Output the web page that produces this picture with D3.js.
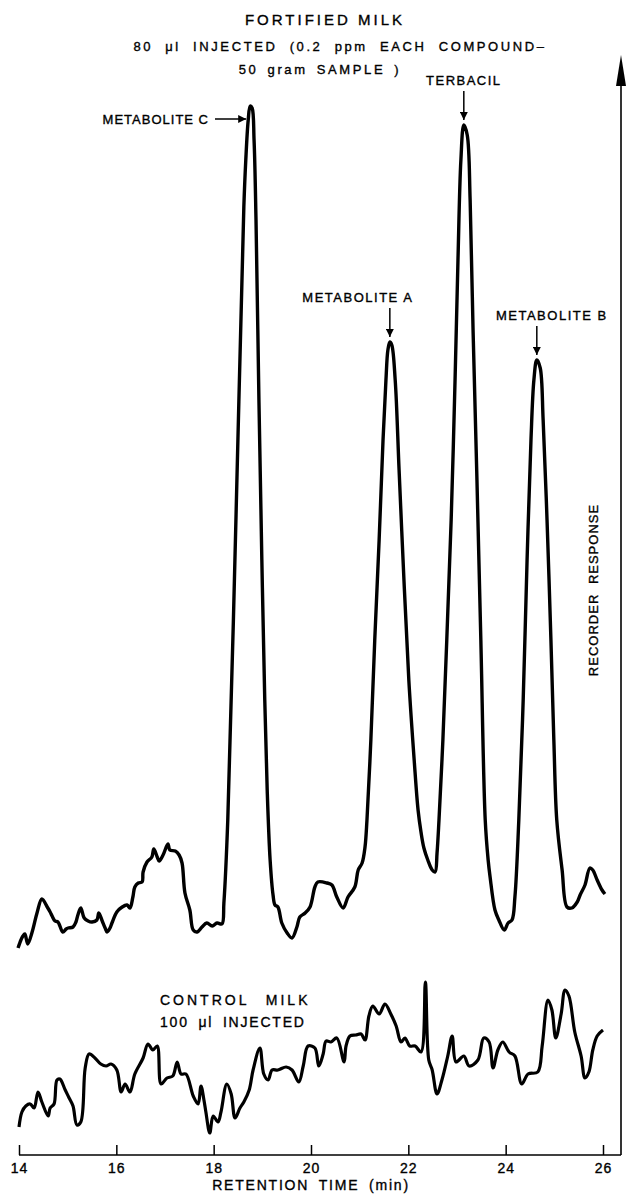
<!DOCTYPE html>
<html>
<head>
<meta charset="utf-8">
<script src="https://cdn.jsdelivr.net/npm/d3@7"></script>
<style>
  body { margin: 0; background: #fff; }
  svg text { font-family: "Liberation Sans", Arial, sans-serif; fill: #000; stroke: #000; stroke-width: 0.35px; }
</style>
</head>
<body>
<svg id="chart" width="631" height="1195"></svg>
<script>
// retention time (min) and recorder response (chart units)
const fortifiedTime = [13.98,14.04,14.08,14.12,14.18,14.27,14.37,14.47,14.58,14.64,14.68,14.74,14.80,14.84,14.90,14.97,15.01,15.11,15.17,15.21,15.27,15.34,15.42,15.50,15.60,15.64,15.71,15.77,15.81,15.87,15.91,16.01,16.12,16.22,16.28,16.34,16.38,16.45,16.53,16.55,16.63,16.73,16.77,16.84,16.88,16.96,17.06,17.10,17.21,17.29,17.35,17.41,17.51,17.58,17.66,17.76,17.86,17.97,18.07,18.17,18.21,18.29,18.46,18.62,18.66,18.71,18.75,18.79,18.83,18.87,18.93,18.99,19.05,19.10,19.16,19.22,19.26,19.32,19.40,19.51,19.61,19.71,19.77,19.88,19.98,20.08,20.14,20.33,20.43,20.53,20.66,20.76,20.90,20.97,21.05,21.11,21.15,21.23,21.31,21.40,21.48,21.54,21.58,21.62,21.66,21.73,21.81,21.91,22.01,22.12,22.20,22.26,22.32,22.40,22.49,22.55,22.59,22.63,22.71,22.79,22.88,22.96,23.02,23.08,23.14,23.21,23.27,23.33,23.41,23.49,23.58,23.64,23.68,23.78,23.86,23.97,24.05,24.13,24.19,24.27,24.36,24.44,24.52,24.58,24.64,24.71,24.77,24.85,24.93,24.99,25.05,25.16,25.26,25.36,25.47,25.53,25.63,25.73,25.79,25.88,25.98,26.04];
const fortifiedResponse = [20.7,21.5,21.9,22.1,21.1,22.3,24.2,25.6,24.8,24.3,23.9,23.4,23.3,22.9,22.3,22.6,22.7,22.8,23.3,24.0,24.7,23.7,23.4,23.3,23.5,24.2,23.4,22.7,22.3,22.7,23.2,24.3,24.8,25.0,24.7,25.8,26.8,27.2,27.3,28.3,29.3,29.8,30.6,29.8,29.4,30.0,31.1,30.5,30.4,30.0,29.2,26.2,24.5,22.5,22.3,22.8,23.2,22.9,23.2,23.1,25.2,33.5,64.0,94.8,99.5,103.5,104.9,104.7,101.5,93.5,75.5,59.5,45.5,36.5,29.5,26.0,25.0,24.8,23.2,22.2,21.7,22.8,23.8,24.2,24.8,26.8,27.3,27.2,27.0,25.8,24.7,25.8,26.8,28.5,29.2,30.8,33.5,41.5,51.5,61.5,71.5,77.5,80.5,81.3,81.0,77.5,68.5,57.5,47.5,39.5,34.5,32.3,30.7,29.5,28.5,28.3,30.2,33.5,41.5,51.5,63.5,77.5,89.5,99.5,103.0,102.0,95.5,82.5,67.5,51.5,33.5,29.5,27.8,24.5,23.5,22.5,23.2,23.5,25.8,33.5,45.5,59.5,71.5,77.5,79.5,78.7,73.5,63.5,51.5,41.5,33.5,28.5,24.8,24.7,25.3,26.0,27.0,28.7,28.5,27.5,26.5,26.1];

const controlTime = [14.00,14.06,14.14,14.23,14.31,14.39,14.47,14.60,14.64,14.72,14.78,14.84,14.95,15.03,15.11,15.19,15.27,15.36,15.44,15.56,15.68,15.79,15.89,16.01,16.10,16.18,16.28,16.38,16.55,16.65,16.75,16.84,16.92,17.04,17.16,17.25,17.33,17.43,17.58,17.68,17.74,17.80,17.84,17.92,17.99,18.09,18.15,18.27,18.36,18.44,18.54,18.62,18.73,18.81,18.95,19.03,19.12,19.20,19.32,19.49,19.61,19.75,19.84,19.94,20.08,20.16,20.25,20.31,20.41,20.53,20.68,20.72,20.80,20.92,21.03,21.11,21.19,21.27,21.40,21.52,21.64,21.75,21.85,21.93,22.03,22.14,22.26,22.35,22.42,22.49,22.59,22.69,22.81,22.90,22.98,23.14,23.25,23.43,23.55,23.66,23.74,23.84,23.94,24.07,24.19,24.33,24.46,24.66,24.75,24.87,24.95,25.03,25.14,25.22,25.30,25.42,25.55,25.63,25.71,25.79,25.88,26.00];
const controlResponse = [2.8,4.3,4.9,5.1,4.7,6.3,5.3,3.9,4.7,5.1,7.5,7.6,6.5,5.7,4.9,3.0,3.3,8.7,10.1,9.7,9.1,8.9,9.1,8.5,6.3,7.1,6.3,8.1,9.7,11.1,10.5,10.9,7.1,7.7,7.9,9.3,8.1,8.1,5.9,5.1,6.9,5.5,4.3,2.2,3.9,3.3,4.3,7.1,6.1,3.7,4.7,5.3,6.5,8.5,10.7,8.1,7.5,8.5,8.5,8.8,8.5,7.3,8.9,10.9,10.7,8.9,10.1,11.4,11.3,11.7,9.3,10.9,11.9,12.0,12.1,11.5,13.9,14.9,14.1,15.1,14.1,12.9,11.3,11.7,10.9,10.9,10.3,17.3,9.5,8.5,6.1,7.5,9.9,11.9,9.3,9.9,8.9,9.5,11.7,11.3,8.7,10.5,11.3,10.3,9.9,7.1,8.1,8.3,10.9,15.5,14.5,11.7,14.1,16.5,15.9,12.3,9.9,7.7,8.3,10.5,11.9,12.5];

const timeTicks = [14, 16, 18, 20, 22, 24, 26];

// peak labels
const peakNames = ["METABOLITE C", "METABOLITE A", "TERBACIL", "METABOLITE B"];
const peakTimes = [18.75, 21.62, 23.14, 24.64];
const peakTops = [104.9, 81.3, 103.0, 79.5];

const headerLines = ["FORTIFIED MILK", "80 \u03bcl INJECTED (0.2 ppm EACH COMPOUND\u2013", "50 gram SAMPLE )"];
const controlLines = ["CONTROL MILK", "100 \u03bcl INJECTED"];

const svg = d3.select('#chart');

const x = d3.scaleLinear().domain([14, 26]).range([19, 603]);
const y = d3.scaleLinear().domain([0, 110]).range([1155, 55]);

const line = d3.line()
    .x(d => x(d[0]))
    .y(d => y(d[1]))
    .curve(d3.curveCatmullRom.alpha(0.5));

// header
const header = svg.append('g');
header.append('text')
    .attr('x', 325).attr('y', 25)
    .attr('text-anchor', 'middle')
    .style('font-size', '15px').style('letter-spacing', '3px')
    .text(headerLines[0]);
header.append('text')
    .attr('x', 340).attr('y', 51)
    .attr('text-anchor', 'middle')
    .style('font-size', '13px').style('letter-spacing', '2.6px').style('word-spacing', '6px')
    .text(headerLines[1]);
header.append('text')
    .attr('x', 320).attr('y', 74)
    .attr('text-anchor', 'middle')
    .style('font-size', '13px').style('letter-spacing', '2.6px').style('word-spacing', '3px')
    .text(headerLines[2]);

// traces
svg.append('path')
    .datum(d3.zip(fortifiedTime, fortifiedResponse))
    .attr('d', line)
    .attr('fill', 'none')
    .attr('stroke', '#000')
    .attr('stroke-width', 3.4)
    .attr('stroke-linejoin', 'round');

svg.append('path')
    .datum(d3.zip(controlTime, controlResponse))
    .attr('d', line)
    .attr('fill', 'none')
    .attr('stroke', '#000')
    .attr('stroke-width', 3.2)
    .attr('stroke-linejoin', 'round');

// arrow marker
svg.append('defs').append('marker')
    .attr('id', 'head')
    .attr('viewBox', '0 0 10 10')
    .attr('refX', 10).attr('refY', 5)
    .attr('markerWidth', 10).attr('markerHeight', 8)
    .attr('markerUnits', 'userSpaceOnUse')
    .attr('orient', 'auto')
    .append('path').attr('d', 'M0,0L10,5L0,10Z').attr('fill', '#000');

const labelFont = sel => sel.style('font-size', '13px').style('letter-spacing', '1.5px');

// METABOLITE C: label at left with horizontal arrow
svg.append('text').call(labelFont)
    .attr('x', 209).attr('y', y(peakTops[0]) + 18)
    .attr('text-anchor', 'end')
    .style('letter-spacing', '1px')
    .text(peakNames[0]);
svg.append('line')
    .attr('x1', 215).attr('x2', x(peakTimes[0]) - 4)
    .attr('y1', y(peakTops[0]) + 13).attr('y2', y(peakTops[0]) + 13)
    .attr('stroke', '#000').attr('stroke-width', 1.5)
    .attr('marker-end', 'url(#head)');

// the others: label above, arrow pointing down
[1, 2, 3].forEach(i => {
    const px = x(peakTimes[i]);
    const top = y(peakTops[i]);
    const dx = i === 1 ? -32 : (i === 3 ? 15 : 0);
    svg.append('text').call(labelFont)
        .attr('x', px + dx).attr('y', top - 40)
        .attr('text-anchor', 'middle')
        .text(peakNames[i]);
    svg.append('line')
        .attr('x1', px).attr('x2', px)
        .attr('y1', top - 34).attr('y2', top - 5)
        .attr('stroke', '#000').attr('stroke-width', 1.5)
        .attr('marker-end', 'url(#head)');
});

// control label
svg.append('text')
    .attr('x', 160).attr('y', 1005)
    .style('font-size', '14px').style('letter-spacing', '3px').style('word-spacing', '10px')
    .text(controlLines[0]);
svg.append('text')
    .attr('x', 160).attr('y', 1027)
    .style('font-size', '14px').style('letter-spacing', '1.8px').style('word-spacing', '4px')
    .text(controlLines[1]);

// bottom axis
const xAxis = d3.axisBottom(x)
    .tickValues(timeTicks)
    .tickSizeInner(-10)
    .tickSizeOuter(0)
    .tickPadding(8);

const gx = svg.append('g')
    .attr('transform', `translate(0,${y(0)})`)
    .call(xAxis);
gx.select('.domain').remove();
gx.selectAll('.tick line').attr('stroke', '#000').attr('stroke-width', 1.5);
gx.selectAll('.tick text')
    .style('font-family', '"Liberation Sans", Arial, sans-serif')
    .style('font-size', '14px').style('letter-spacing', '1px')
    .attr('fill', '#000');

svg.append('line')
    .attr('x1', x(14)).attr('x2', 621)
    .attr('y1', y(0)).attr('y2', y(0))
    .attr('stroke', '#000').attr('stroke-width', 1.6);

svg.append('text')
    .attr('x', x(20)).attr('y', 1190)
    .attr('text-anchor', 'middle')
    .style('font-size', '14px').style('letter-spacing', '1.8px').style('word-spacing', '4px')
    .text('RETENTION TIME (min)');

// right axis with arrow
svg.append('line')
    .attr('x1', 621).attr('x2', 621)
    .attr('y1', y(0)).attr('y2', 80)
    .attr('stroke', '#000').attr('stroke-width', 1.6);
svg.append('path')
    .attr('d', 'M621,55L626,86L616,86Z')
    .attr('fill', '#000');

svg.append('text')
    .attr('transform', 'translate(598,590) rotate(-90)')
    .attr('text-anchor', 'middle')
    .style('font-size', '13px').style('letter-spacing', '1px').style('word-spacing', '5px')
    .text('RECORDER RESPONSE');
</script>
</body>
</html>
